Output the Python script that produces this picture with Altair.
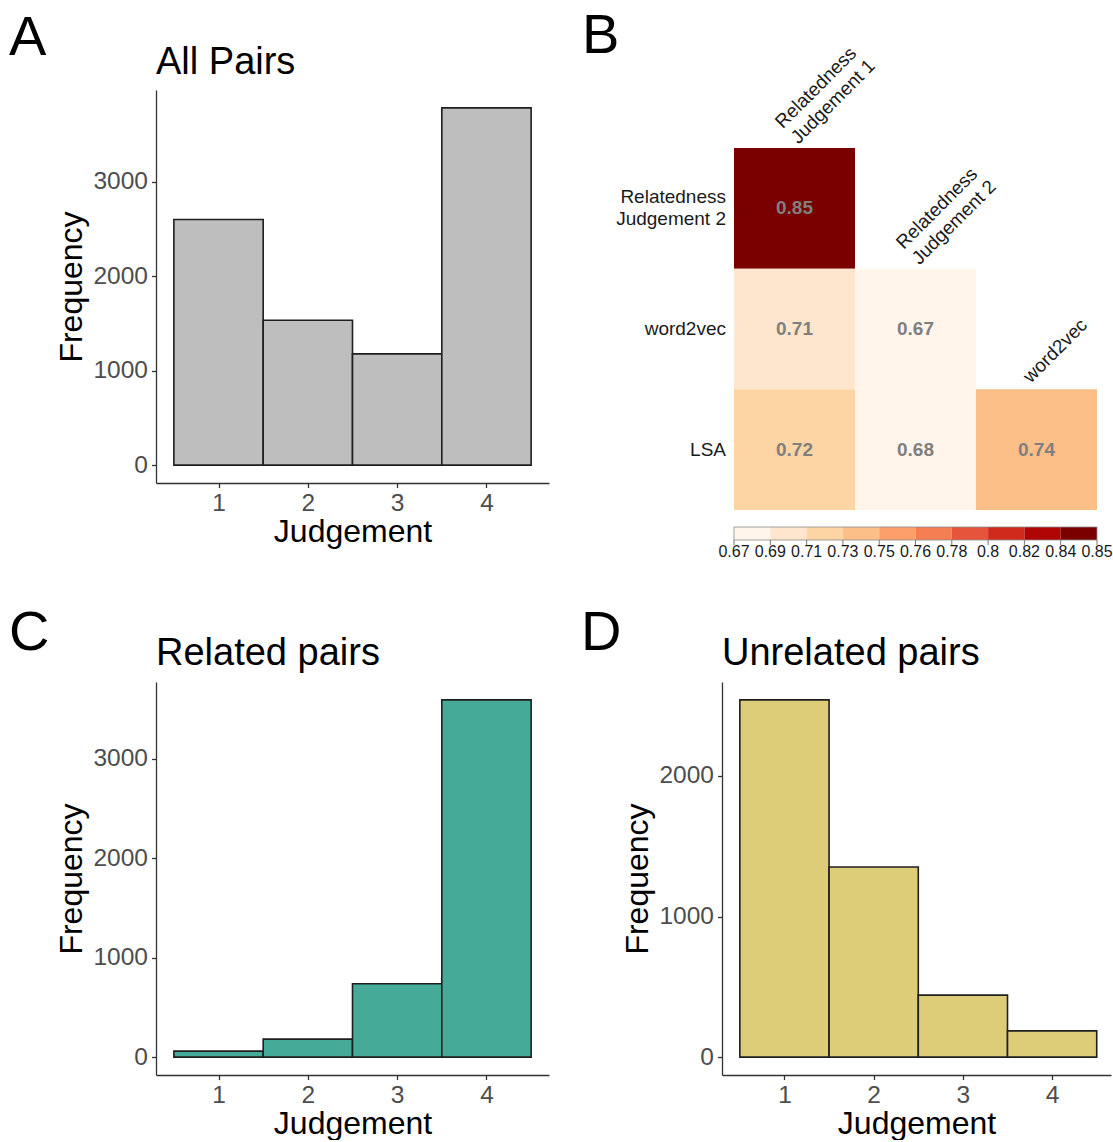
import altair as alt
import pandas as pd

FONT = "Liberation Sans"

# Histogram counts per judgement level
judgement = [1, 2, 3, 4]
all_pairs = [2600, 1533, 1178, 3782]
related_pairs = [60, 181, 738, 3595]
unrelated_pairs = [2541, 1352, 441, 187]

# Correlations between relatedness measures (lower triangle)
measures_rows = ["Relatedness Judgement 2", "word2vec", "LSA"]
measures_cols = ["Relatedness Judgement 1", "Relatedness Judgement 2", "word2vec"]
cor_row = ["Relatedness Judgement 2", "word2vec", "word2vec", "LSA", "LSA", "LSA"]
cor_col = ["Relatedness Judgement 1", "Relatedness Judgement 1", "Relatedness Judgement 2",
           "Relatedness Judgement 1", "Relatedness Judgement 2", "word2vec"]
cor_r = [0.851, 0.709, 0.674, 0.722, 0.681, 0.738]

# Binned fill scale
fill_limits = [0.674, 0.854]
fill_colors = ["#FFF5EB", "#FEE6CE", "#FDD5A5", "#FDBF88", "#FC9F6A",
               "#F57F52", "#E6553B", "#CF2A1C", "#AF0505", "#7A0000"]

FILL_SCALE = alt.Scale(type="quantize", domain=fill_limits, range=fill_colors, nice=False)


def text_layer(text, x, y, size, align="left", baseline="alphabetic"):
    return alt.Chart(pd.DataFrame({"t": [text]})).mark_text(
        align=align, baseline=baseline, fontSize=size, font=FONT, color="black"
    ).encode(text="t:N", x=alt.value(x), y=alt.value(y))


def histogram(counts, fill, title, letter, width, x_max, title_y, letter_x, letter_y):
    df = pd.DataFrame({"judgement": judgement, "count": counts})
    df["lo"] = df["judgement"] - 0.5
    df["hi"] = df["judgement"] + 0.5
    top = max(counts)
    ticks = [v for v in (0, 1000, 2000, 3000) if v <= top]
    bars = alt.Chart(df).mark_rect(
        fill=fill, stroke="#1f1f1f", strokeWidth=1.6
    ).encode(
        x=alt.X("lo:Q", scale=alt.Scale(domain=[0.3, x_max], nice=False, zero=False),
                axis=alt.Axis(values=judgement, title="Judgement", format="d")),
        x2="hi:Q",
        y=alt.Y("count:Q", scale=alt.Scale(domain=[-0.05 * top, 1.05 * top], nice=False, zero=False),
                axis=alt.Axis(values=ticks, title="Frequency", format="d")),
        y2=alt.datum(0),
    )
    return alt.layer(
        bars,
        text_layer(title, 0, title_y, 38),
        text_layer(letter, letter_x, letter_y, 56),
    ).properties(width=width, height=393)


# ---- Correlation heatmap -------------------------------------------------
cor_df = pd.DataFrame({"row": cor_row, "col": cor_col, "r": cor_r})
X_BAND = alt.Scale(domain=measures_cols, range=[12, 375], paddingInner=0, paddingOuter=0)
Y_BAND = alt.Scale(domain=measures_rows, range=[58, 420], paddingInner=0, paddingOuter=0)

tiles = alt.Chart(cor_df).mark_rect().encode(
    x=alt.X("col:N", scale=X_BAND, axis=None),
    y=alt.Y("row:N", scale=Y_BAND, axis=None),
    color=alt.Color("r:Q", scale=FILL_SCALE, legend=None),
)

values = alt.Chart(cor_df).mark_text(
    fontSize=19, fontWeight="bold", color="#7F7F7F", font=FONT, baseline="middle"
).encode(
    x=alt.X("col:N", scale=X_BAND, axis=None),
    y=alt.Y("row:N", scale=Y_BAND, axis=None),
    text=alt.Text("r:Q", format=".2f"),
)

row_df = pd.DataFrame({
    "row": measures_rows,
    "col": [measures_cols[0]] * len(measures_rows),
    "name": [m.replace("Relatedness ", "Relatedness\n") for m in measures_rows],
})
col_df = pd.DataFrame({
    "col": measures_cols,
    "row": measures_rows,
    "name": [m.replace("Relatedness ", "Relatedness\n") for m in measures_cols],
})
two_line = "indexof(datum.name, '\\n') >= 0"
one_line = "indexof(datum.name, '\\n') < 0"


def row_label_layer(filt, dy):
    return alt.Chart(row_df).transform_filter(filt).mark_text(
        align="right", baseline="middle", dx=-8, dy=dy, fontSize=19, lineHeight=22,
        lineBreak="\n", font=FONT, color="#1a1a1a"
    ).encode(
        x=alt.X("col:N", bandPosition=0, scale=X_BAND, axis=None),
        y=alt.Y("row:N", scale=Y_BAND, axis=None),
        text="name:N",
    )


def col_label_layer(filt, dx, dy):
    return alt.Chart(col_df).transform_filter(filt).mark_text(
        align="left", baseline="middle", angle=315, dx=dx, dy=dy, fontSize=19,
        lineHeight=22, lineBreak="\n", font=FONT, color="#1a1a1a"
    ).encode(
        x=alt.X("col:N", scale=X_BAND, axis=None),
        y=alt.Y("row:N", bandPosition=0, scale=Y_BAND, axis=None),
        text="name:N",
    )


heat = alt.layer(
    tiles, values,
    row_label_layer(two_line, -11), row_label_layer(one_line, 0),
    col_label_layer(two_line, 5, -27.5), col_label_layer(one_line, 0, -14),
)

# ---- Stepped colour bar ---------------------------------------------------
n_bins = len(fill_colors)
step = (fill_limits[1] - fill_limits[0]) / n_bins
bins_df = pd.DataFrame({"k": list(range(n_bins))})
bins_df["k1"] = bins_df["k"] + 1
bins_df["mid"] = fill_limits[0] + (bins_df["k"] + 0.5) * step
breaks_df = pd.DataFrame({"k": list(range(n_bins + 1))})
breaks_df["b"] = fill_limits[0] + breaks_df["k"] * step

X_BAR = alt.Scale(domain=[0, n_bins], range=[12, 375], nice=False, zero=False)

bar_bins = alt.Chart(bins_df).mark_rect().encode(
    x=alt.X("k:Q", scale=X_BAR, axis=None), x2="k1:Q",
    y=alt.value(437), y2=alt.value(450),
    color=alt.Color("mid:Q", scale=FILL_SCALE, legend=None),
)
bar_frame = alt.Chart(pd.DataFrame({"k": [0], "k1": [n_bins]})).mark_rect(
    fill=None, stroke="#8c8c8c", strokeWidth=0.8
).encode(
    x=alt.X("k:Q", scale=X_BAR, axis=None), x2="k1:Q",
    y=alt.value(437), y2=alt.value(450),
)
bar_ticks = alt.Chart(breaks_df).mark_rule(color="#666666", strokeWidth=0.9).encode(
    x=alt.X("k:Q", scale=X_BAR, axis=None),
    y=alt.value(450), y2=alt.value(455),
)
bar_labels = alt.Chart(breaks_df).mark_text(
    align="center", baseline="top", fontSize=16, font=FONT, color="#1a1a1a"
).encode(
    x=alt.X("k:Q", scale=X_BAR, axis=None),
    y=alt.value(454),
    text=alt.Text("b:Q", format=".2~f"),
)
colour_bar = alt.layer(bar_bins, bar_frame, bar_ticks, bar_labels)

panel_b = alt.layer(
    heat, colour_bar, text_layer("B", -140, -37, 56)
).resolve_scale(
    x="independent", y="independent"
).properties(width=375, height=420)

panel_a = histogram(all_pairs, "#BEBEBE", "All Pairs", "A", 393, 4.7, -16, -147, -35)
panel_c = histogram(related_pairs, "#45AA98", "Related pairs", "C", 393, 4.7, -17, -147, -32)
panel_d = histogram(unrelated_pairs, "#DDCD78", "Unrelated pairs", "D", 389, 4.66, -17, -141, -32)

chart = alt.concat(
    panel_a, panel_b, panel_c, panel_d,
    columns=2, spacing={"row": 172, "column": 173}, bounds="flush",
).properties(
    padding={"left": 9, "top": 8, "right": 0, "bottom": 0},
    background="white",
).configure(
    font=FONT
).configure_view(
    stroke=None
).configure_axis(
    grid=False, domainColor="#333333", domainWidth=1.3, tickColor="#333333", tickWidth=1.3,
    tickSize=4.5, labelFontSize=24.5, labelColor="#4D4D4D", labelFont=FONT,
    titleFontSize=32, titleFontWeight="normal", titleColor="black", titleFont=FONT,
    labelFlush=False,
).configure_axisX(
    labelPadding=3.8, titlePadding=2
).configure_axisY(
    labelPadding=4, titlePadding=4
)

chart.save("out.html", embed_options={"renderer": "svg", "actions": False})
